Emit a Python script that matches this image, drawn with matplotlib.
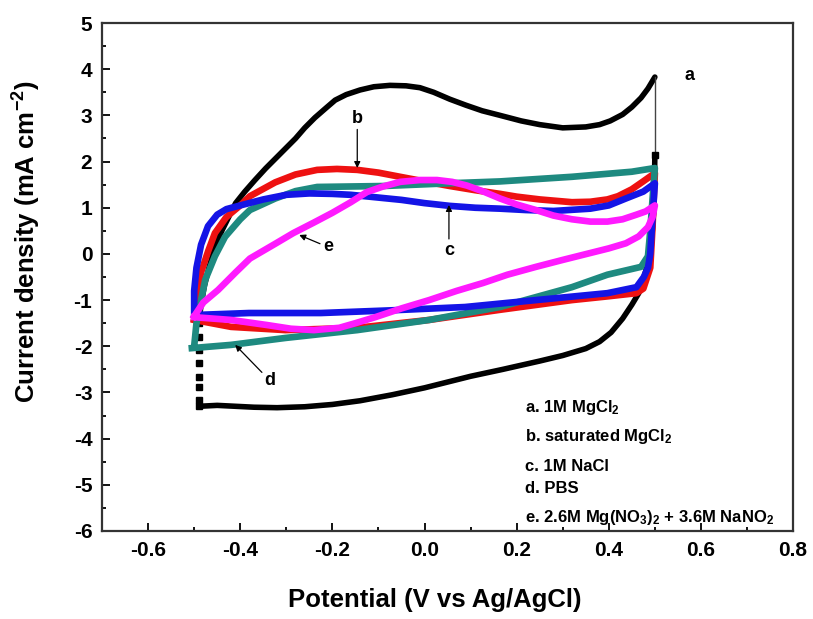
import matplotlib
matplotlib.use("Agg")
import matplotlib.pyplot as plt
from matplotlib.ticker import MultipleLocator

plt.rcParams["font.family"] = ["Liberation Sans", "DejaVu Sans"]
plt.rcParams["font.weight"] = "bold"
plt.rcParams["axes.labelweight"] = "bold"
plt.rcParams["axes.unicode_minus"] = False
plt.rcParams["mathtext.fontset"] = "custom"
plt.rcParams["mathtext.rm"] = "Liberation Sans:bold"
plt.rcParams["mathtext.it"] = "Liberation Sans:bold"
plt.rcParams["mathtext.bf"] = "Liberation Sans:bold"
plt.rcParams["mathtext.default"] = "bf"

# a. 1M MgCl2 -- anodic sweep, reversal, cathodic sweep
a_up_x = [-0.49, -0.485, -0.478, -0.468, -0.455, -0.44, -0.425, -0.41, -0.39, -0.368,
          -0.345, -0.325, -0.30, -0.28, -0.26, -0.238, -0.215, -0.194, -0.17, -0.14,
          -0.11, -0.075, -0.04, -0.01, 0.02, 0.055, 0.09, 0.125, 0.164, 0.21,
          0.25, 0.30, 0.35, 0.38, 0.403, 0.43, 0.45, 0.47, 0.485, 0.50]
a_up_y = [-1.5, -1.1, -0.7, -0.3, 0.15, 0.5, 0.8, 1.1, 1.35, 1.6,
          1.85, 2.05, 2.3, 2.5, 2.73, 2.95, 3.15, 3.33, 3.45, 3.55,
          3.62, 3.65, 3.64, 3.6, 3.5, 3.35, 3.22, 3.1, 3.0, 2.88,
          2.8, 2.73, 2.75, 2.8, 2.88, 3.02, 3.18, 3.38, 3.58, 3.83]
a_rev_x = [0.50, 0.50]
a_rev_y = [3.83, 2.14]
a_down_x = [0.50, 0.498, 0.493, 0.485, 0.475, 0.465, 0.45, 0.43, 0.405, 0.38, 0.35,
            0.30, 0.25, 0.17, 0.10, 0.0, -0.07, -0.14, -0.20, -0.26, -0.32, -0.37,
            -0.45, -0.49]
a_down_y = [2.14, 1.0, 0.3, -0.2, -0.55, -0.85, -1.1, -1.4, -1.7, -1.9, -2.05,
            -2.2, -2.32, -2.5, -2.65, -2.9, -3.05, -3.18, -3.26, -3.31, -3.33, -3.32,
            -3.28, -3.3]
a_dots_x = [-0.49, -0.49, -0.49, -0.49, -0.49, -0.49, -0.49, -0.49]
a_dots_y = [-3.3, -3.16, -2.88, -2.67, -2.36, -2.08, -1.8, -1.5]

# b. saturated MgCl2
b_x = [-0.50, -0.495, -0.485, -0.47, -0.455, -0.43, -0.40, -0.379, -0.324, -0.28, -0.233,
       -0.19, -0.146, -0.10, -0.053, 0.0, 0.055, 0.11, 0.164, 0.20, 0.25, 0.32, 0.36,
       0.397, 0.42, 0.45, 0.476, 0.50,
       0.495, 0.49, 0.475, 0.46, 0.397, 0.32, 0.164, 0.01, -0.146, -0.302, -0.42, -0.50]
b_y = [-1.4, -0.9, -0.4, 0.05, 0.45, 0.8, 1.05, 1.25, 1.55, 1.72, 1.82,
       1.84, 1.82, 1.76, 1.67, 1.57, 1.47, 1.38, 1.3, 1.24, 1.18, 1.12, 1.13,
       1.18, 1.25, 1.4, 1.58, 1.75,
       0.6, -0.3, -0.75, -0.85, -0.92, -1.0, -1.21, -1.43, -1.6, -1.65, -1.58, -1.43]

# c. 1M NaCl
c_x = [-0.50, -0.50, -0.495, -0.485, -0.47, -0.45, -0.43, -0.40, -0.35, -0.30, -0.25,
       -0.20, -0.16, -0.10, -0.05, 0.0, 0.055, 0.11, 0.164, 0.22, 0.28, 0.36, 0.40,
       0.437, 0.475, 0.50,
       0.495, 0.49, 0.485, 0.476, 0.46, 0.397, 0.242, 0.088, -0.068, -0.225, -0.381, -0.49]
c_y = [-1.3, -0.8, -0.3, 0.2, 0.6, 0.85, 0.97, 1.05, 1.18, 1.28, 1.31,
       1.3, 1.28, 1.22, 1.17, 1.1, 1.04, 1.0, 0.98, 0.95, 0.93, 0.98, 1.05,
       1.2, 1.35, 1.53,
       0.8, 0.0, -0.3, -0.5, -0.72, -0.85, -1.0, -1.15, -1.22, -1.28, -1.28, -1.32]

# d. PBS
d_x = [-0.50, -0.495, -0.485, -0.476, -0.455, -0.433, -0.40, -0.379, -0.324, -0.28, -0.233,
       -0.09, 0.055, 0.164, 0.32, 0.45, 0.50,
       0.495, 0.49, 0.485, 0.47, 0.397, 0.32, 0.164, 0.01, -0.146, -0.302, -0.42, -0.505]
d_y = [-2.0, -1.5, -1.0, -0.56, -0.05, 0.37, 0.75, 0.95, 1.2, 1.36, 1.45,
       1.47, 1.53, 1.57, 1.67, 1.78, 1.86,
       1.2, 0.5, -0.05, -0.28, -0.45, -0.72, -1.15, -1.43, -1.65, -1.82, -1.97, -2.04]

# e. 2.6M Mg(NO3)2 + 3.6M NaNO2
e_x = [-0.50, -0.48, -0.448, -0.41, -0.379, -0.324, -0.285, -0.24, -0.20, -0.16, -0.125,
       -0.09, -0.053, -0.01, 0.027, 0.06, 0.092, 0.128, 0.164, 0.20, 0.242, 0.28, 0.32,
       0.36, 0.397, 0.43, 0.46, 0.48, 0.50,
       0.495, 0.485, 0.465, 0.437, 0.40, 0.36, 0.30, 0.242, 0.18, 0.127, 0.07, 0.01,
       -0.05, -0.107, -0.15, -0.185, -0.24, -0.29, -0.342, -0.42, -0.50]
e_y = [-1.35, -1.05, -0.78, -0.4, -0.1, 0.22, 0.45, 0.68, 0.89, 1.12, 1.34,
       1.46, 1.56, 1.6, 1.6, 1.56, 1.48, 1.35, 1.2, 1.07, 0.95, 0.83, 0.75,
       0.7, 0.7, 0.75, 0.85, 0.92, 1.05,
       0.8, 0.58, 0.38, 0.23, 0.12, 0.02, -0.13, -0.28, -0.45, -0.63, -0.8, -1.0,
       -1.18, -1.37, -1.5, -1.6, -1.65, -1.62, -1.54, -1.43, -1.37]

legend_lines = [
    "a. 1M MgCl$_2$",
    "b. saturated MgCl$_2$",
    "c. 1M NaCl",
    "d. PBS",
    "e. 2.6M Mg(NO$_3$)$_2$ + 3.6M NaNO$_2$",
]
legend_y = [-3.32, -3.96, -4.61, -5.09, -5.7]

fig = plt.figure(figsize=(8.13, 6.19), dpi=100)
ax = fig.add_axes([0.1255, 0.1422, 0.85, 0.8206])

lw = 4.8
ax.plot(a_up_x, a_up_y, color="black", lw=4.0, solid_capstyle="round", solid_joinstyle="round")
ax.plot(a_rev_x, a_rev_y, color="#444444", lw=1.0)
ax.plot(a_down_x, a_down_y, color="black", lw=4.0, solid_capstyle="round", solid_joinstyle="round")
ax.plot(a_dots_x, a_dots_y, ls="none", marker="s", ms=4, color="black")
ax.plot([0.5], [2.14], ls="none", marker="s", ms=4, color="black")

ax.plot(b_x, b_y, color="#ee1111", lw=lw, solid_joinstyle="round")
ax.plot(d_x, d_y, color="#1e8a80", lw=lw, solid_joinstyle="round")
ax.plot(c_x, c_y, color="#1414e6", lw=lw, solid_joinstyle="round")
ax.plot(e_x, e_y, color="#ff1aff", lw=lw, solid_joinstyle="round")

arrow = dict(arrowstyle="-|>", color="black", lw=0.9, mutation_scale=9, shrinkA=0, shrinkB=0)
ax.text(0.576, 3.87, "a", fontsize=13, ha="center", va="center")
ax.annotate("b", xy=(-0.146, 1.86), xytext=(-0.146, 2.94), fontsize=13,
            ha="center", va="center", arrowprops=arrow)
ax.annotate("c", xy=(0.053, 1.06), xytext=(0.053, 0.08), fontsize=13,
            ha="center", va="center", arrowprops=arrow)
ax.annotate("e", xy=(-0.272, 0.41), xytext=(-0.21, 0.15), fontsize=13,
            ha="center", va="center", arrowprops=arrow)
ax.annotate("d", xy=(-0.411, -1.97), xytext=(-0.335, -2.75), fontsize=13,
            ha="center", va="center", arrowprops=arrow)

for label, y in zip(legend_lines, legend_y):
    ax.text(0.218, y, label, fontsize=12, ha="left", va="center")

ax.set_xlim(-0.7, 0.8)
ax.set_ylim(-6, 5)
ax.xaxis.set_major_locator(MultipleLocator(0.2))
ax.xaxis.set_minor_locator(MultipleLocator(0.1))
ax.yaxis.set_major_locator(MultipleLocator(1))
ax.yaxis.set_minor_locator(MultipleLocator(0.5))
ax.set_xticks([-0.6, -0.4, -0.2, 0.0, 0.2, 0.4, 0.6, 0.8])
ax.set_xticklabels(["-0.6", "-0.4", "-0.2", "0.0", "0.2", "0.4", "0.6", "0.8"])
ax.tick_params(which="both", direction="in", width=1.3, labelsize=15, pad=7)
ax.tick_params(which="major", length=6)
ax.tick_params(which="minor", length=3)
for s in ax.spines.values():
    s.set_linewidth(1.6)
    s.set_color("#333333")

ax.set_xlabel("Potential (V vs Ag/AgCl)", fontsize=18.5)
ax.set_ylabel("Current density (mA cm$^{-2}$)", fontsize=18.5)
ax.xaxis.label.set_va("center")
ax.yaxis.label.set_va("center")
ax.xaxis.set_label_coords(0.482, -0.136)
ax.yaxis.set_label_coords(-0.108, 0.569)

fig.savefig("out.png", dpi=100)
